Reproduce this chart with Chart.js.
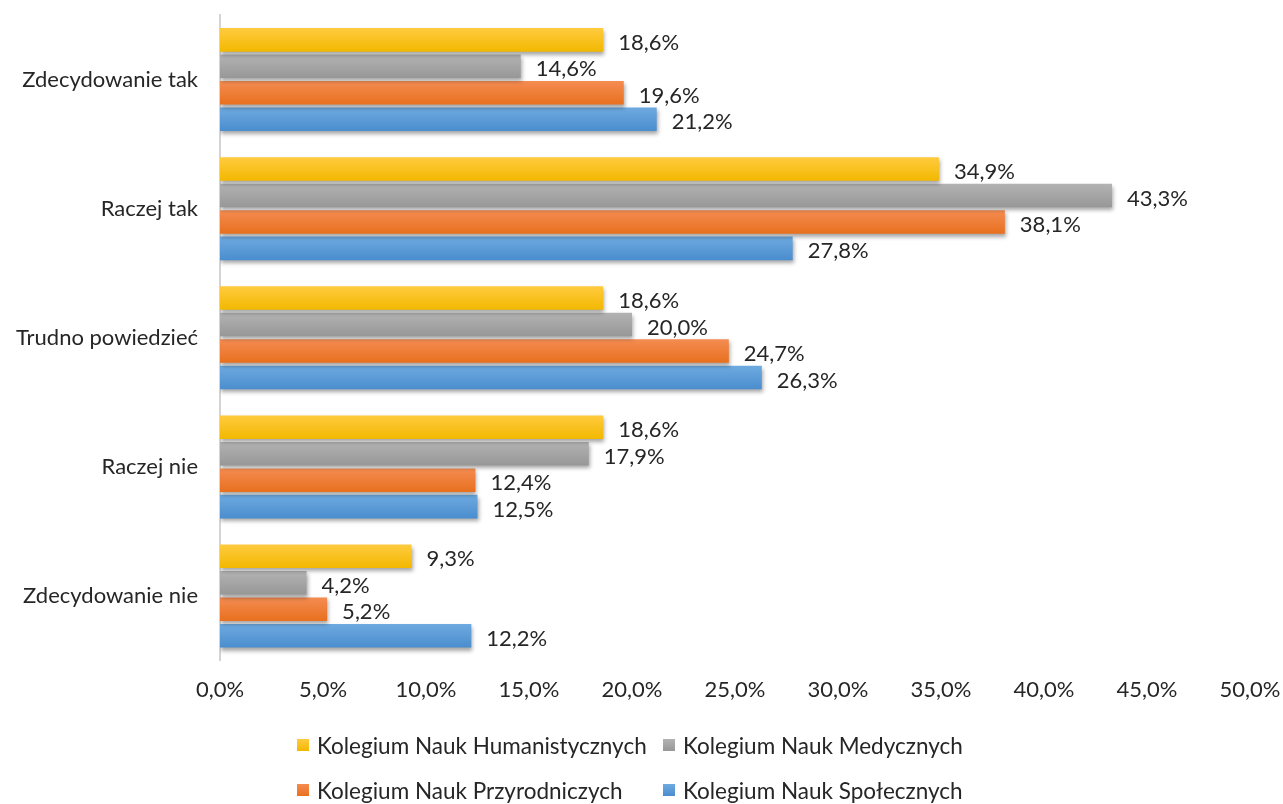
<!DOCTYPE html>
<html>
<head>
<meta charset="utf-8">
<script src="https://cdn.jsdelivr.net/npm/chart.js@4"></script>
<style>
  html, body { margin: 0; padding: 0; background: #fff; }
  #wrap { position: relative; width: 1283px; height: 804px; }
  #legend { position: absolute; left: 0; top: 0; width: 1283px; height: 804px; pointer-events: none;
    font-family: Lato, "Noto Sans", sans-serif; font-size: 22.5px; color: #262626; }
  .item { position: absolute; display: flex; align-items: center; white-space: nowrap; }
  .sq { width: 12px; height: 12px; margin-right: 8px; }
</style>
</head>
<body>
<div id="wrap">
  <canvas id="chart" width="1283" height="804"></canvas>
  <div id="legend"></div>
</div>
<script>
const categories = ["Zdecydowanie tak", "Raczej tak", "Trudno powiedzieć", "Raczej nie", "Zdecydowanie nie"];
const seriesNames = ["Kolegium Nauk Humanistycznych", "Kolegium Nauk Medycznych", "Kolegium Nauk Przyrodniczych", "Kolegium Nauk Społecznych"];
const humanistyczne = [18.6, 34.9, 18.6, 18.6, 9.3];
const medyczne = [14.6, 43.3, 20.0, 17.9, 4.2];
const przyrodnicze = [19.6, 38.1, 24.7, 12.4, 5.2];
const spoleczne = [21.2, 27.8, 26.3, 12.5, 12.2];
const xTicks = [0, 5, 10, 15, 20, 25, 30, 35, 40, 45, 50];

// top / bottom shades for each series
const shades = [
  ["#ffcb3f", "#f2b800", "#f5bf10"],
  ["#b3b3b3", "#979797", "#a5a5a5"],
  ["#f48c52", "#e8701e", "#ed7d31"],
  ["#6eaae0", "#4a8dce", "#5b9bd5"],
];

const FONT = "Lato, 'Noto Sans', sans-serif";
const fmt = (v) => v.toFixed(1).replace(".", ",") + "%";

function barFill(idx) {
  return (ctx) => {
    const el = ctx.element;
    if (!el || el.y === undefined || el.height === undefined || isNaN(el.y)) return shades[idx][2];
    const c = ctx.chart.ctx;
    const top = el.y - Math.abs(el.height) / 2;
    const bot = el.y + Math.abs(el.height) / 2;
    const g = c.createLinearGradient(0, top, 0, bot);
    g.addColorStop(0, shades[idx][0]);
    g.addColorStop(1, shades[idx][1]);
    return g;
  };
}

const allSeries = [humanistyczne, medyczne, przyrodnicze, spoleczne];

const shadowAndLabels = {
  id: "shadowAndLabels",
  beforeDatasetsDraw(chart) {
    const c = chart.ctx;
    c.save();
    c.shadowColor = "rgba(0,0,0,0.35)";
    c.shadowBlur = 4;
    c.shadowOffsetX = 1;
    c.shadowOffsetY = 3;
  },
  afterDatasetsDraw(chart) {
    const c = chart.ctx;
    c.restore();
    c.save();
    c.font = "22px " + FONT;
    c.fillStyle = "#262626";
    c.textAlign = "left";
    c.textBaseline = "middle";
    chart.data.datasets.forEach((ds, i) => {
      chart.getDatasetMeta(i).data.forEach((bar, j) => {
        c.fillText(fmt(ds.data[j]), bar.x + 15, bar.y + 3);
      });
    });
    c.restore();
  }
};

const chart = new Chart(document.getElementById("chart"), {
  type: "bar",
  data: {
    labels: categories,
    datasets: allSeries.map((d, i) => ({
      label: seriesNames[i],
      data: d,
      backgroundColor: barFill(i),
      borderWidth: 0,
      categoryPercentage: 0.82,
      barPercentage: 0.89,
    })),
  },
  options: {
    indexAxis: "y",
    responsive: false,
    animation: false,
    layout: { padding: { left: 8, right: 33, top: 15, bottom: 85 } },
    plugins: { legend: { display: false }, tooltip: { enabled: false } },
    scales: {
      y: {
        grid: { display: false, drawTicks: false },
        border: { display: true, color: "#d4d4d4", width: 2 },
        ticks: { padding: 22, color: "#262626", font: { family: FONT, size: 22 } },
        afterFit: (s) => { s.width = 212; s.paddingTop = 0; s.paddingBottom = 0; },
      },
      x: {
        min: 0, max: 50,
        afterBuildTicks: (s) => { s.ticks = xTicks.map((v) => ({ value: v })); },
        grid: { display: false, drawTicks: false },
        border: { display: false },
        ticks: {
          padding: 16, color: "#262626", maxRotation: 0,
          font: { family: FONT, size: 22 },
          callback: (v) => fmt(v),
        },
        afterFit: (s) => { s.paddingLeft = 0; s.paddingRight = 0; },
      },
    },
  },
  plugins: [shadowAndLabels],
});
chart.update();

// legend in two columns, two rows
const legend = document.getElementById("legend");
const legendPos = [[297, 745], [663, 745], [297, 790], [663, 790]];
seriesNames.forEach((name, i) => {
  const it = document.createElement("div");
  it.className = "item";
  it.style.left = legendPos[i][0] + "px";
  it.style.top = (legendPos[i][1] - 14) + "px";
  it.style.height = "28px";
  const sq = document.createElement("span");
  sq.className = "sq";
  sq.style.background = "linear-gradient(" + shades[i][0] + "," + shades[i][1] + ")";
  const tx = document.createElement("span");
  tx.textContent = name;
  it.appendChild(sq);
  it.appendChild(tx);
  legend.appendChild(it);
});
</script>
</body>
</html>
